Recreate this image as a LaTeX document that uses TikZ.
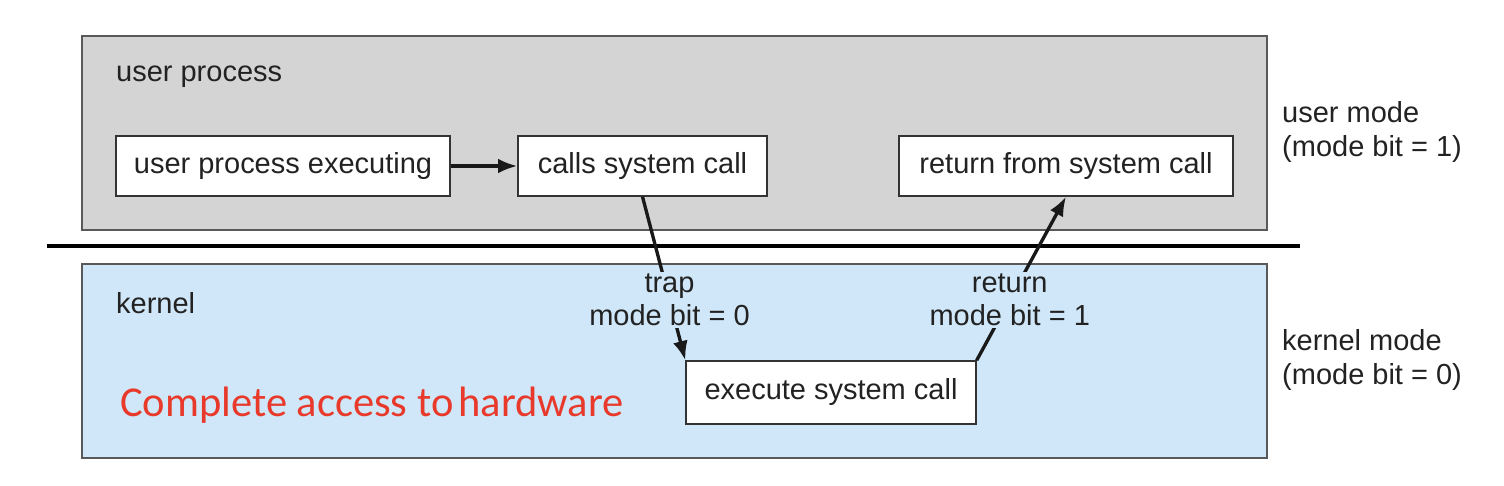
\documentclass[tikz,border=0pt]{standalone}
\usepackage{fontspec}
\setmainfont{Liberation Sans}
\newfontfamily\redfont{Carlito}
\usepackage{xcolor}
\usetikzlibrary{arrows.meta,positioning}
\definecolor{usergray}{HTML}{D4D4D4}
\definecolor{kernelblue}{HTML}{CFE7F8}
\definecolor{accessred}{HTML}{E8392B}
\definecolor{inkgray}{HTML}{222222}

\begin{document}
\begin{tikzpicture}[x=0.02cm,y=-0.02cm,text=inkgray,
  stepbox/.style={draw=black!80,line width=0.8pt,fill=white,minimum height=1.2cm,font=\fontsize{16.5}{20}\selectfont},
  lbl/.style={fill=kernelblue,inner sep=1pt,align=center,font=\fontsize{16.5}{19}\selectfont},
  side/.style={anchor=west,align=left,font=\fontsize{16.5}{19}\selectfont},
  conn/.style={line width=1.9pt,draw=black!90},
  tip/.style={-{Latex[length=11pt,width=8.5pt]}}]
\useasboundingbox (0,0) rectangle (1504,486);

% the two zones
\draw[fill=usergray,draw=black!65,line width=0.8pt] (82,36) rectangle (1267,230);
\draw[fill=kernelblue,draw=black!65,line width=0.8pt] (82,264) rectangle (1267,458);
\draw[line width=2.2pt] (47,246) -- (1300,246);

\node[side] (utitle) at (110,77) {user process};
\node[side] (ktitle) at (110,303) {kernel};
\node[side] (umode) at (1276,132) {user mode\\(mode bit = 1)};
\node[side] (kmode) at (1276,360) {kernel mode\\(mode bit = 0)};
\node[anchor=west,text=accessred,font=\redfont\fontsize{24.2}{28}\selectfont] (access) at (114,405) {Complete access to\hspace{0.12em}hardware};

% steps
\node[stepbox,minimum width=6.68cm] (exe) at (283,166) {user process executing};
\node[stepbox,minimum width=4.98cm] (calls) at (642.5,166) {calls system call};
\node[stepbox,minimum width=6.68cm] (ret) at (1066,166) {return from system call};
\node[stepbox,minimum width=5.8cm,minimum height=1.26cm] (exec) at (831,392.5) {execute system call};

\draw[conn,tip] (exe) -- (calls);
\draw[conn,tip] (calls.south) -- node[lbl,pos=0.63] (trap) {trap\\mode bit = 0} (exec.north west);
\draw[conn,tip] (exec.north east) -- node[lbl,pos=0.37] (back) {return\\mode bit = 1} (ret.south);
\end{tikzpicture}
\end{document}
